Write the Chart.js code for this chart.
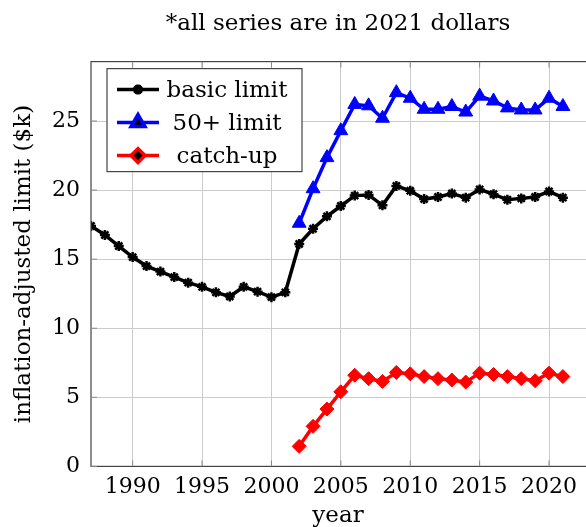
<!DOCTYPE html>
<html>
<head>
<meta charset="utf-8">
<script src="https://cdn.jsdelivr.net/npm/chart.js@4.4.0/dist/chart.umd.min.js"></script>
<style>
  html, body { margin: 0; padding: 0; background: #fff; overflow: hidden; }
  #wrap { width: 676px; height: 540px; }
</style>
</head>
<body>
<div id="wrap"><canvas id="limitChart" width="676" height="540"></canvas></div>
<script>
// years for the basic series, and the later ones that have the 50+ and catch-up limits
const basicYears = [1987, 1988, 1989, 1990, 1991, 1992, 1993, 1994, 1995, 1996, 1997, 1998, 1999, 2000,
    2001, 2002, 2003, 2004, 2005, 2006, 2007, 2008, 2009, 2010, 2011, 2012, 2013, 2014, 2015, 2016,
    2017, 2018, 2019, 2020, 2021];
const laterYears = [2002, 2003, 2004, 2005, 2006, 2007, 2008, 2009, 2010, 2011, 2012, 2013, 2014,
    2015, 2016, 2017, 2018, 2019, 2020, 2021];

// inflation-adjusted limits, $k
const basicLimit = [17.4, 16.75, 15.95, 15.15, 14.5, 14.1, 13.7, 13.3, 13.0, 12.6, 12.3, 13.0, 12.65,
    12.25, 12.6, 16.1, 17.2, 18.1, 18.85, 19.6, 19.65, 18.9, 20.3, 19.95, 19.35, 19.5, 19.75, 19.45,
    20.05, 19.7, 19.3, 19.4, 19.5, 19.9, 19.45];
const fiftyPlusLimit = [17.6, 20.1, 22.35, 24.3, 26.2, 26.1, 25.2, 27.05, 26.65, 25.85, 25.85, 26.05,
    25.65, 26.8, 26.45, 25.95, 25.8, 25.8, 26.65, 26.05];
const catchUpLimit = [1.45, 2.9, 4.15, 5.4, 6.6, 6.35, 6.15, 6.8, 6.7, 6.5, 6.35, 6.25, 6.1, 6.75,
    6.65, 6.5, 6.35, 6.2, 6.75, 6.5];

const xTicks = [1990, 1995, 2000, 2005, 2010, 2015, 2020];
const yTicks = [0, 5, 10, 15, 20, 25];

const serif = "'DejaVu Serif', 'Liberation Serif', serif";
Chart.defaults.font.family = serif;
Chart.defaults.color = '#000';

const toPoints = (xs, ys) => xs.map((x, i) => ({ x: x, y: ys[i] }));

// frame round the plot + a legend box in the top-left corner
const framePlugin = {
    id: 'frame',
    afterDatasetsDraw(chart) {
        const ctx = chart.ctx;
        const a = chart.chartArea;
        ctx.save();
        ctx.strokeStyle = '#444';
        ctx.lineWidth = 1.2;
        ctx.strokeRect(a.left, a.top, a.right - a.left, a.bottom - a.top);

        // little inward tick marks
        ctx.strokeStyle = '#888';
        ctx.lineWidth = 1;
        const xs = chart.scales.x, ys = chart.scales.y;
        xTicks.forEach(t => {
            const px = xs.getPixelForValue(t);
            ctx.beginPath();
            ctx.moveTo(px, a.bottom); ctx.lineTo(px, a.bottom - 6);
            ctx.moveTo(px, a.top); ctx.lineTo(px, a.top + 6);
            ctx.stroke();
        });
        yTicks.forEach(t => {
            const py = ys.getPixelForValue(t);
            ctx.beginPath();
            ctx.moveTo(a.left, py); ctx.lineTo(a.left + 6, py);
            ctx.stroke();
        });

        // legend
        const bx = a.left + 16, by = a.top + 7, bw = 195, bh = 103;
        ctx.fillStyle = '#fff';
        ctx.fillRect(bx, by, bw, bh);
        ctx.strokeStyle = '#444';
        ctx.lineWidth = 1.2;
        ctx.strokeRect(bx, by, bw, bh);
        ctx.font = '23px ' + serif;
        ctx.textBaseline = 'middle';
        ctx.textAlign = 'center';
        chart.data.datasets.forEach((ds, i) => {
            const cy = by + 21 + i * 33;
            ctx.strokeStyle = ds.borderColor;
            ctx.lineWidth = 3.5;
            ctx.beginPath();
            ctx.moveTo(bx + 10, cy); ctx.lineTo(bx + 52, cy);
            ctx.stroke();
            Chart.helpers.drawPoint(ctx, {
                pointStyle: ds.pointStyle,
                radius: ds.pointRadius,
                borderWidth: ds.pointBorderWidth,
                rotation: 0
            }, bx + 31, cy);
            ctx.fillStyle = '#000';
            ctx.fillText(ds.label, bx + 120, cy + 1);
        });
        ctx.restore();
    }
};

const ctx = document.getElementById('limitChart').getContext('2d');
const chart = new Chart(ctx, {
    type: 'line',
    data: {
        datasets: [
            {
                label: 'basic limit',
                data: toPoints(basicYears, basicLimit),
                borderColor: '#000',
                backgroundColor: '#000',
                pointBorderColor: '#000',
                pointBackgroundColor: '#000',
                borderWidth: 3.5,
                pointStyle: 'star',
                pointRadius: 5,
                pointBorderWidth: 2.5
            },
            {
                label: '50+ limit',
                data: toPoints(laterYears, fiftyPlusLimit),
                borderColor: '#0000ff',
                backgroundColor: '#0000ff',
                pointBorderColor: '#0000ff',
                pointBackgroundColor: '#0000ff',
                borderWidth: 3.5,
                pointStyle: 'triangle',
                pointRadius: 8,
                pointBorderWidth: 1
            },
            {
                label: 'catch-up',
                data: toPoints(laterYears, catchUpLimit),
                borderColor: '#ff0000',
                backgroundColor: '#ff0000',
                pointBorderColor: '#ff0000',
                pointBackgroundColor: '#ff0000',
                borderWidth: 3.5,
                pointStyle: 'rectRot',
                pointRadius: 7,
                pointBorderWidth: 1
            }
        ]
    },
    options: {
        responsive: false,
        animation: false,
        layout: { padding: { left: 0, right: 0, top: 0, bottom: 0 } },
        plugins: {
            legend: { display: false },
            tooltip: { enabled: false },
            title: {
                display: true,
                text: '*all series are in 2021 dollars',
                font: { size: 23, weight: 'normal' },
                padding: { top: 10, bottom: 24 }
            },
            // x axis title, centred on the visible part of the plot
            subtitle: {
                display: true,
                position: 'bottom',
                text: 'year',
                color: '#000',
                font: { size: 23, weight: 'normal' },
                padding: { top: 0, bottom: 10 }
            }
        },
        scales: {
            x: {
                type: 'linear',
                min: 1987,
                max: 2028.5,
                afterBuildTicks: axis => { axis.ticks = xTicks.map(v => ({ value: v })); },
                afterFit: axis => { axis.height = 36; },
                grid: { color: '#cccccc', lineWidth: 1, drawTicks: false },
                border: { display: false },
                ticks: {
                    font: { size: 22 },
                    padding: 8,
                    maxRotation: 0,
                    callback: v => String(v)
                }
            },
            y: {
                min: 0,
                max: 29.3,
                afterBuildTicks: axis => { axis.ticks = yTicks.map(v => ({ value: v })); },
                afterFit: axis => { axis.width = 91; },
                grid: { color: '#cccccc', lineWidth: 1, drawTicks: false },
                border: { display: false },
                ticks: {
                    font: { size: 22 },
                    padding: 11
                },
                title: {
                    display: true,
                    text: 'inflation-adjusted limit ($k)',
                    font: { size: 23 },
                    padding: { top: 10, bottom: 4 }
                }
            }
        }
    },
    plugins: [framePlugin]
});
</script>
</body>
</html>
